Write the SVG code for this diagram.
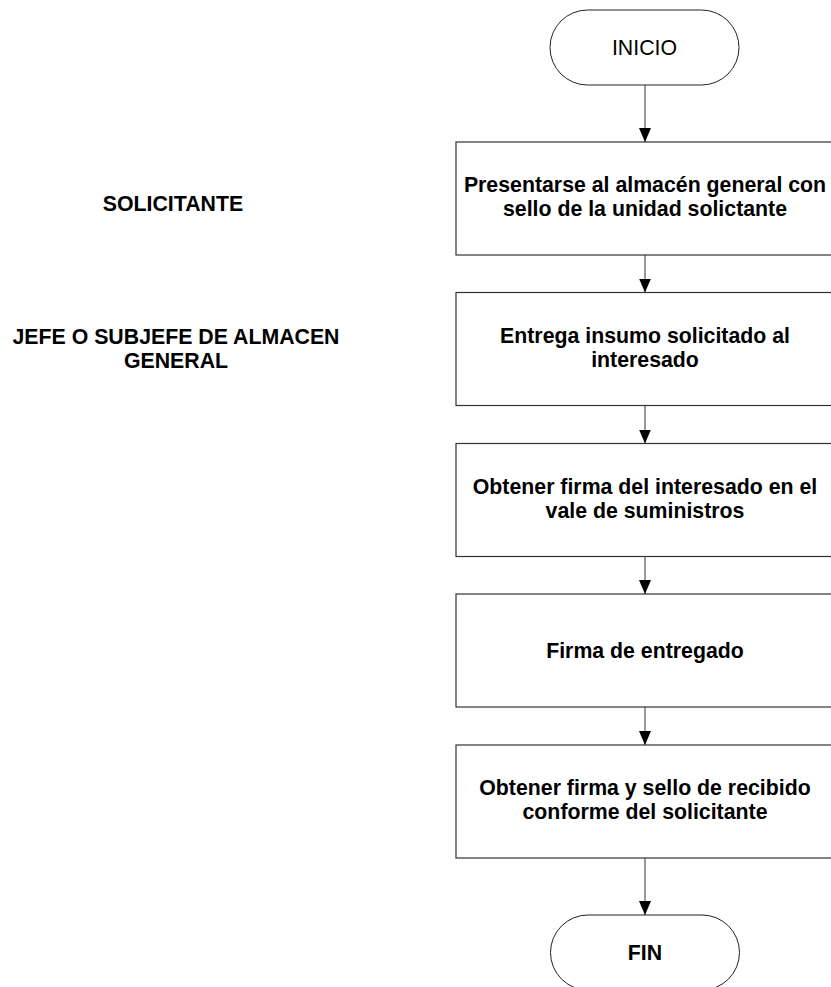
<svg xmlns="http://www.w3.org/2000/svg" width="831" height="987" viewBox="0 0 831 987">
<style>
.term{fill:#fff;stroke:#222;stroke-width:1}
.box{fill:#fff;stroke:#333;stroke-width:1.2}
.t{font-family:"Liberation Sans",Arial,sans-serif;font-size:21.3px;fill:#000;text-anchor:middle}
.b{font-weight:bold}
.conn{stroke:#555;stroke-width:1.2;fill:none;marker-end:url(#arr)}
</style>
<defs>
<marker id="arr" markerWidth="14" markerHeight="12" refX="14" refY="6" orient="auto" markerUnits="userSpaceOnUse" viewBox="0 0 14 12">
<path d="M0,0 L14,6 L0,12 Z" fill="#000"/>
</marker>
</defs>
<g id="label-solicitante"><text class="t b" x="173" y="211">SOLICITANTE</text></g>
<g id="label-jefe"><text class="t b" x="176" y="344">JEFE O SUBJEFE DE ALMACEN</text><text class="t b" x="176" y="368">GENERAL</text></g>
<g id="connectors">
<line class="conn" x1="645" y1="85" x2="645" y2="142"/>
<line class="conn" x1="645" y1="255" x2="645" y2="292.5"/>
<line class="conn" x1="645" y1="405.5" x2="645" y2="443.5"/>
<line class="conn" x1="645" y1="556.5" x2="645" y2="594"/>
<line class="conn" x1="645" y1="707" x2="645" y2="745"/>
<line class="conn" x1="645" y1="858" x2="645" y2="915"/>
</g>
<g id="inicio"><rect class="term" x="550" y="10" width="189" height="75" rx="37.5"/><text class="t" x="644.5" y="55">INICIO</text></g>
<g id="n1"><rect class="box" x="456" y="142" width="380" height="113"/><text class="t b" x="645" y="192">Presentarse al almacén general con</text><text class="t b" x="645" y="216">sello de la unidad solictante</text></g>
<g id="n2"><rect class="box" x="456" y="292.5" width="380" height="113"/><text class="t b" x="645" y="343">Entrega insumo solicitado al</text><text class="t b" x="645" y="367">interesado</text></g>
<g id="n3"><rect class="box" x="456" y="443.5" width="380" height="113"/><text class="t b" x="645" y="494">Obtener firma del interesado en el</text><text class="t b" x="645" y="518">vale de suministros</text></g>
<g id="n4"><rect class="box" x="456" y="594" width="380" height="113"/><text class="t b" x="645" y="658">Firma de entregado</text></g>
<g id="n5"><rect class="box" x="456" y="745" width="380" height="113"/><text class="t b" x="645" y="795">Obtener firma y sello de recibido</text><text class="t b" x="645" y="819">conforme del solicitante</text></g>
<g id="fin"><rect class="term" x="550.5" y="915" width="189" height="75" rx="37.5"/><text class="t b" x="645" y="960">FIN</text></g>
</svg>
